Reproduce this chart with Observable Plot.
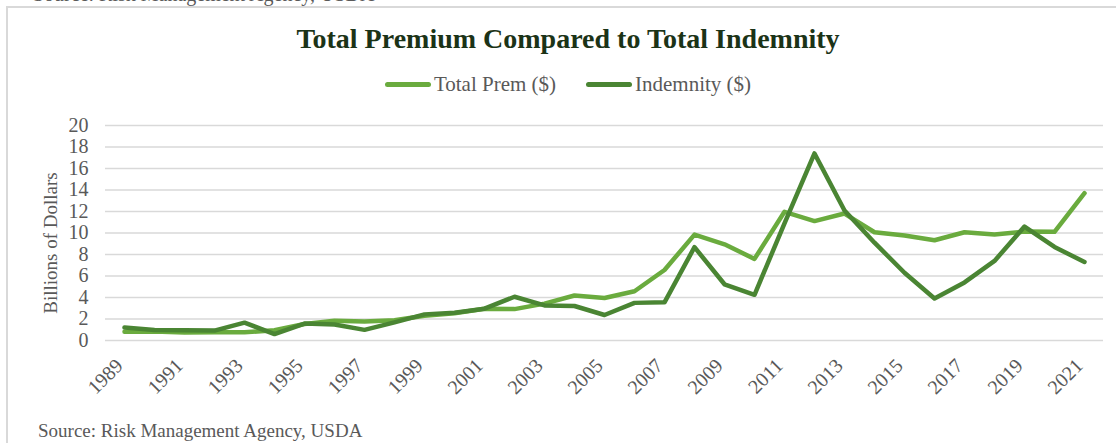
<!DOCTYPE html>
<html>
<head>
<meta charset="utf-8">
<script src="https://cdn.jsdelivr.net/npm/d3@7"></script>
<script src="https://cdn.jsdelivr.net/npm/@observablehq/plot@0.6"></script>
<style>
  html, body { margin: 0; padding: 0; background: #fff; }
  #wrap { position: relative; width: 1116px; height: 443px; overflow: hidden; font-family: "Liberation Serif", serif; }
  .frameTop { position: absolute; left: 7px; top: 6px; width: 1109px; height: 2px; background: #d9d9d9; }
  .frameLeft { position: absolute; left: 6px; top: 6px; width: 2px; height: 437px; background: #d9d9d9; }
  .topsrc { position: absolute; left: 33px; top: -17px; font-size: 20px; color: #595959; white-space: nowrap; }
  #title { position: absolute; left: 10px; width: 1116px; top: 23px; text-align: center; font-size: 28px; font-weight: bold; color: #1b3317; white-space: nowrap; }
  #legend { position: absolute; left: 10px; width: 1116px; top: 72px; display: flex; justify-content: center; gap: 30px; font-size: 21px; color: #595959; }
  .item { display: flex; align-items: center; }
  .swatch { width: 46px; height: 5px; border-radius: 3px; margin-right: 3px; }
  #chart { position: absolute; left: 0; top: 100px; }
  #source { position: absolute; left: 38px; top: 420px; font-size: 19px; color: #595959; white-space: nowrap; }
</style>
</head>
<body>
<div id="wrap">
  <div class="topsrc">Source: Risk Management Agency, USDA</div>
  <div class="frameTop"></div>
  <div class="frameLeft"></div>
  <div id="title">Total Premium Compared to Total Indemnity</div>
  <div id="legend"></div>
  <div id="chart"></div>
  <div id="source">Source: Risk Management Agency, USDA</div>
</div>
<script>
const years = [1989,1990,1991,1992,1993,1994,1995,1996,1997,1998,1999,2000,2001,2002,2003,2004,2005,2006,2007,2008,2009,2010,2011,2012,2013,2014,2015,2016,2017,2018,2019,2020,2021];
const totalPrem = [0.81,0.84,0.74,0.76,0.76,0.95,1.54,1.84,1.77,1.88,2.31,2.54,2.96,2.92,3.43,4.19,3.95,4.58,6.56,9.85,8.95,7.59,11.97,11.11,11.81,10.07,9.77,9.33,10.07,9.87,10.13,10.11,13.7];
const indemnity = [1.21,0.97,0.96,0.92,1.66,0.60,1.57,1.49,0.99,1.68,2.43,2.59,2.96,4.07,3.26,3.21,2.37,3.50,3.55,8.68,5.23,4.25,10.9,17.4,12.1,9.1,6.3,3.9,5.4,7.4,10.6,8.7,7.3];
const seriesNames = ["Total Prem ($)", "Indemnity ($)"];
const seriesColors = ["#6aab3e", "#4a8533"];
const yTicks = [0,2,4,6,8,10,12,14,16,18,20];
const xTickYears = years.filter((y, i) => i % 2 === 0).map(String);
const yAxisTitle = "Billions of Dollars";

const data = [];
years.forEach((y, i) => data.push({year: String(y), series: seriesNames[0], value: totalPrem[i]}));
years.forEach((y, i) => data.push({year: String(y), series: seriesNames[1], value: indemnity[i]}));

const legend = document.getElementById("legend");
seriesNames.forEach((n, i) => {
  const it = document.createElement("div");
  it.className = "item";
  it.innerHTML = `<span class="swatch" style="background:${seriesColors[i]}"></span><span>${n}</span>`;
  legend.appendChild(it);
});

const chart = Plot.plot({
  width: 1116,
  height: 300,
  marginTop: 25,
  marginBottom: 60,
  marginLeft: 105,
  marginRight: 13,
  style: {fontFamily: "Liberation Serif, serif", fontSize: "19px", color: "#595959", background: "transparent", overflow: "visible"},
  x: {type: "point", domain: years.map(String), padding: 0.5},
  y: {domain: [0, 20]},
  color: {domain: seriesNames, range: seriesColors},
  marks: [
    Plot.gridY(yTicks, {stroke: "#d9d9d9", strokeOpacity: 1, strokeWidth: 1.6}),
    Plot.axisY(yTicks, {tickSize: 0, tickPadding: 17, label: null, fill: "#595959", fontSize: 20}),
    Plot.text([yAxisTitle], {text: d => d, frameAnchor: "left", textAnchor: "middle", dx: -55, dy: 10, rotate: -90, fill: "#595959", fontSize: 19}),
    Plot.axisX(xTickYears, {tickSize: 0, tickRotate: -45, tickPadding: 16, dx: -5, dy: 6, label: null, fill: "#595959", fontSize: 20}),
    Plot.line(data, {x: "year", y: "value", z: "series", stroke: "series", strokeWidth: 4.5, strokeLinejoin: "round", strokeLinecap: "round"})
  ]
});
document.getElementById("chart").appendChild(chart);
</script>
</body>
</html>
